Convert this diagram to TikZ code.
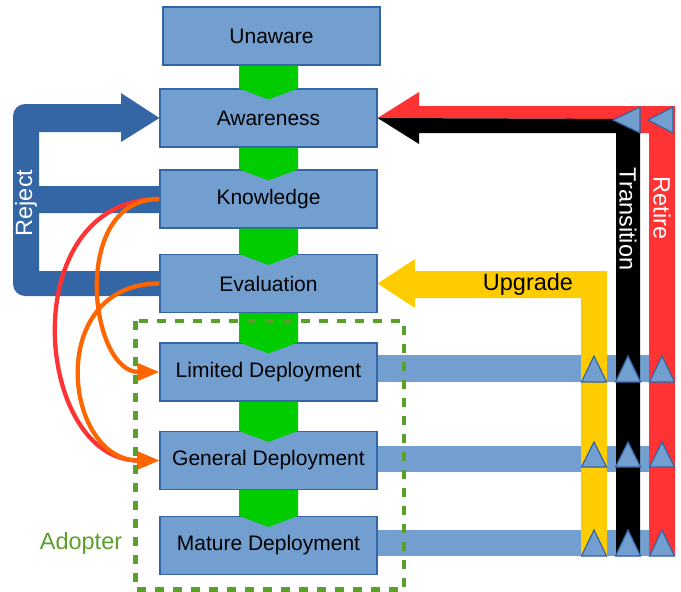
\documentclass[tikz,border=0pt]{standalone}
\usepackage{fontspec}
\setmainfont{Liberation Sans}
\usetikzlibrary{calc,arrows.meta}
\definecolor{boxfill}{HTML}{729FCF}
\definecolor{boxline}{HTML}{3465A4}
\definecolor{rejblue}{HTML}{3465A4}
\definecolor{chevgreen}{HTML}{00CC00}
\definecolor{redc}{HTML}{FF3333}
\definecolor{orangec}{HTML}{FF6600}
\definecolor{yellowc}{HTML}{FFCC00}
\definecolor{adoptgreen}{HTML}{5A9E2C}
\pgfdeclarelayer{bg}
\pgfsetlayers{bg,main}
\newcommand\chev[2]{\fill[chevgreen] ($(#2.north |- #1.south)+(-29.5,0)$) -- ($(#2.north |- #1.south)+(29.5,0)$) -- ($(#2.north)+(29.5,0)$) -- ($(#2.north)+(0,11)$) -- ($(#2.north)+(-29.5,0)$) -- cycle;}
\newcommand\uptri[3]{\draw[tri] ({#1-12.5},#3) -- (#1,#2) -- ({#1+12.5},#3) -- cycle;}
\begin{document}
\begin{tikzpicture}[x=1pt,y=-1pt,
  box/.style={draw=boxline, fill=boxfill, line width=1.2pt, minimum width=217pt, minimum height=58pt, inner sep=0pt, font=\fontsize{21}{25}\selectfont},
  tri/.style={fill=boxfill, draw=boxline, line width=1.2pt, line join=miter},
  lbl/.style={font=\fontsize{23.5}{28}\selectfont, inner sep=0pt},
  curve/.style={line width=4.3pt, -{Triangle[length=22pt,width=17pt]}}]
\useasboundingbox (0,0) rectangle (681,592);
% boxes
\node[box] (unaware) at (271.5,36) {Unaware};
\node[box] (aware) at (268.5,118) {Awareness};
\node[box] (know) at (268.5,199) {Knowledge};
\node[box] (eval) at (268.5,283.5) {Evaluation};
\node[box] (lim) at (268.5,372) {Limited Deployment};
\node[box] (gen) at (268.5,460.5) {General Deployment};
\node[box] (mat) at (268.5,545.5) {Mature Deployment};
\begin{pgfonlayer}{bg}
% reject loop
\fill[rejblue] (aware.west) -- (121,93) -- (121,104) -- (25,104) arc[start angle=-90,end angle=-180,radius=12] -- (13,284) arc[start angle=180,end angle=90,radius=12] -- (160,296) -- (160,271) -- (39,271) -- (39,213) -- (160,213) -- (160,186) -- (39,186) -- (39,132) -- (121,132) -- (121,142) -- cycle;
% deployment bars
\fill[boxfill] (377,355) rectangle (675,382);
\fill[boxfill] (377,446) rectangle (675,472);
\fill[boxfill] (377,530) rectangle (675,556);
% upgrade
\fill[yellowc] (eval.east) -- (415,259) -- (415,271) -- (607,271) -- (607,556) -- (581,556) -- (581,298) -- (415,298) -- (415,308) -- cycle;
% retire
\fill[redc] (aware.east) -- (419,92) -- (419,106) -- (675,106) -- (675,556) -- (649,556) -- (649,133) -- (630,133) -- (630,119) -- cycle;
% transition
\fill[black] (aware.east) -- (640,119) -- (640,556) -- (616,556) -- (616,133) -- (419,133) -- (419,144) -- cycle;
% triangles
\foreach \x in {594,628,662} {\uptri{\x}{356}{382}\uptri{\x}{442}{467}\uptri{\x}{530}{556}}
\draw[tri] (613,120) -- (640,107) -- (640,133) -- cycle;
\draw[tri] (648,120) -- (673,107) -- (673,133) -- cycle;
\end{pgfonlayer}
% chevrons
\chev{unaware}{aware}
\chev{aware}{know}
\chev{know}{eval}
\chev{eval}{lim}
\chev{lim}{gen}
\chev{gen}{mat}
% curves
\draw[curve, redc] (know.west) .. controls +(-146,0) and +(-126,0) .. (gen.west);
\draw[curve, orangec] (know.west) .. controls +(-90,0) and +(-70,0) .. (lim.west);
\draw[curve, orangec] (eval.west) .. controls +(-115,0) and +(-96,0) .. (gen.west);
% adopter frame
\draw[adoptgreen, line width=4.3pt, dash pattern=on 9pt off 9pt] (135.5,321) rectangle (404,589.5);
% labels
\node[lbl, text=white, rotate=90] (rej) at (26,203) {Reject};
\node[lbl, text=white, rotate=-90] (trans) at (628,219) {Transition};
\node[lbl, text=white, rotate=-90] (ret) at (662,208) {Retire};
\node[lbl] (upg) at (528,284) {Upgrade};
\node[lbl, text=adoptgreen] (adopt) at (81,543) {Adopter};
\end{tikzpicture}
\end{document}
